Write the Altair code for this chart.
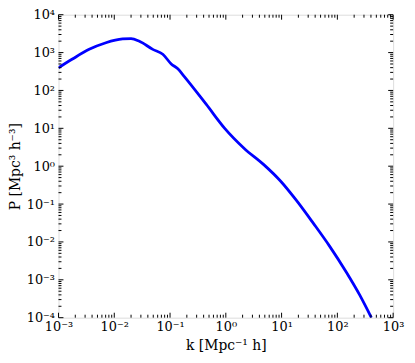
import altair as alt
import pandas as pd

# Power spectrum (k in Mpc^-1 h, P in Mpc^3 h^-3)
k_vals = [0.001, 0.00178, 0.00355, 0.00708, 0.0141, 0.02, 0.0282, 0.049,
          0.0741, 0.105, 0.138, 0.182, 0.447, 0.955, 2.14, 4.79, 9.55,
          18.6, 37.2, 72.4, 145, 251, 407]
p_vals = [398, 676, 1216, 1820, 2290, 2340, 1995, 1216,
          906, 501, 372, 229, 42.7, 10.0, 2.95, 1.10, 0.407,
          0.123, 0.0309, 0.00776, 0.00158, 0.000398, 0.0001]

# tick positions
x_major = [1e-3, 1e-2, 1e-1, 1e0, 1e1, 1e2, 1e3]
y_major = [1e-4, 1e-3, 1e-2, 1e-1, 1e0, 1e1, 1e2, 1e3, 1e4]
x_minor = [m * 10.0 ** e for e in range(-3, 3) for m in range(2, 10)]
y_minor = [m * 10.0 ** e for e in range(-4, 4) for m in range(2, 10)]

W, H = 338, 306
MAJ, MIN = 5, 3
FONT = "DejaVu Serif"

sup = "['⁻⁴','⁻³','⁻²','⁻¹','⁰','¹','²','³','⁴'][round(log(datum.value)/LN10)+4]"
label_expr = "'10' + " + sup

xscale = alt.Scale(type="log", domain=[1e-3, 1e3], nice=False)
yscale = alt.Scale(type="log", domain=[1e-4, 1e4], nice=False)

x_axis = alt.Axis(values=x_major, labelExpr=label_expr, ticks=False, domain=False,
                  grid=False, labelFont=FONT, labelFontSize=13, labelColor="black",
                  labelPadding=3, labelFlush=False, labelOverlap=False,
                  title="k [Mpc⁻¹ h]", titleFont=FONT, titleFontSize=14,
                  titleFontWeight="normal", titleColor="black", titlePadding=5)
y_axis = alt.Axis(values=y_major, labelExpr=label_expr, ticks=False, domain=False,
                  grid=False, labelFont=FONT, labelFontSize=13, labelColor="black",
                  labelPadding=4, labelFlush=False, labelOverlap=False,
                  title="P [Mpc³ h⁻³]", titleFont=FONT, titleFontSize=14,
                  titleFontWeight="normal", titleColor="black", titlePadding=4)

df = pd.DataFrame({"k": k_vals, "P": p_vals})

line = alt.Chart(df).mark_line(color="#0000ff", strokeWidth=2.8,
                               interpolate="monotone", clip=True).encode(
    x=alt.X("k:Q", scale=xscale, axis=x_axis),
    y=alt.Y("P:Q", scale=yscale, axis=y_axis),
)


def yticks(vals, length):
    d = pd.DataFrame({"v": vals})
    base = alt.Chart(d).mark_rule(color="black", strokeWidth=1)
    left = base.encode(y=alt.Y("v:Q", scale=yscale, axis=y_axis),
                       x=alt.value(0), x2=alt.value(length))
    right = base.encode(y=alt.Y("v:Q", scale=yscale, axis=y_axis),
                        x=alt.value(W), x2=alt.value(W - length))
    return [left, right]


def xticks(vals, length):
    d = pd.DataFrame({"v": vals})
    base = alt.Chart(d).mark_rule(color="black", strokeWidth=1)
    bottom = base.encode(x=alt.X("v:Q", scale=xscale, axis=x_axis),
                         y=alt.value(H), y2=alt.value(H - length))
    top = base.encode(x=alt.X("v:Q", scale=xscale, axis=x_axis),
                      y=alt.value(0), y2=alt.value(length))
    return [bottom, top]


layers = [line] + yticks(y_major, MAJ) + yticks(y_minor, MIN) + \
    xticks(x_major, MAJ) + xticks(x_minor, MIN)

chart = alt.layer(*layers).properties(
    width=W, height=H,
    autosize=alt.AutoSizeParams(type="none"),
    padding={"left": 51, "top": 5, "right": 14, "bottom": 44},
).configure_view(stroke="black", strokeWidth=1).configure(background="white")

chart.save("out.html", embed_options={"renderer": "svg", "actions": False})
